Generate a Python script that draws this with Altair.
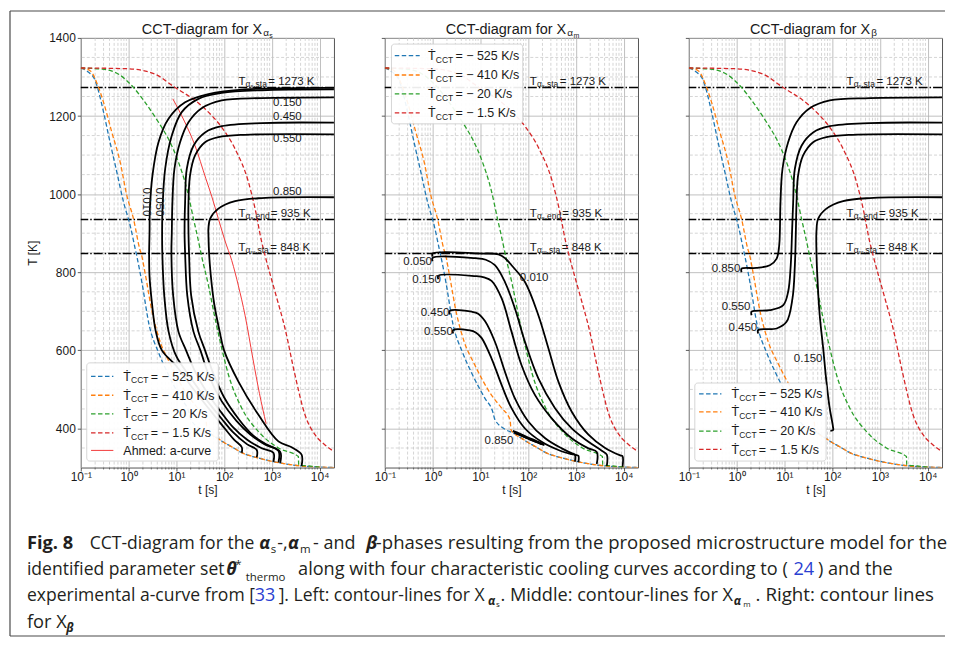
import altair as alt
import pandas as pd

FONT = "Liberation Sans"
CAPFONT = "Open Sans"
INK = "#1a1a1a"
W, H = 254, 431
XDOM = [0.1, 20000]
YDOM = [300, 1400]
PX0, PY0 = 79, 35.5   # page position of the left plot's origin

# ---------------- axis ticks ----------------
x_major = [0.1, 1, 10, 100, 1000, 10000]
x_minor = [0.2, 0.3, 0.4, 0.5, 0.6, 0.7, 0.8, 0.9, 2, 3, 4, 5, 6, 7, 8, 9,
           20, 30, 40, 50, 60, 70, 80, 90, 200, 300, 400, 500, 600, 700, 800, 900,
           2000, 3000, 4000, 5000, 6000, 7000, 8000, 9000]
y_major = [400, 600, 800, 1000, 1200, 1400]
y_minor = [350, 450, 500, 550, 650, 700, 750, 850, 900, 950, 1050, 1100, 1150, 1250, 1300, 1350]

# ---------------- cooling curves ----------------
rate_labels = ["= \u2212 525 K/s", "= \u2212 410 K/s", "= \u2212 20 K/s", "= \u2212 1.5 K/s"]
rate_colors = ["#1f77b4", "#ff7f0e", "#2ca02c", "#d62728"]

blue_t = [0.1, 0.146, 0.2, 0.224, 0.30, 0.41, 0.57, 0.785, 1.08, 1.38, 1.45, 1.9, 2.7, 4.2, 6.4,
          12.5, 18.5, 20, 33, 50, 75, 100, 160, 235, 500, 1080, 2000, 4200, 10000, 20000]
blue_T = [1323, 1312, 1291, 1273, 1210, 1133, 1056, 980, 920, 860, 848, 775, 665, 596, 545,
          477, 440, 424, 398, 388, 374, 364, 350, 338, 325, 315, 309, 304, 301, 300]

orange_t = [0.1, 0.157, 0.236, 0.30, 0.448, 0.668, 0.92, 1.27, 1.75, 1.84, 2.22, 3.1, 4.6, 7.5,
            17, 28, 42, 44, 50, 75, 100, 160, 235, 500, 1080, 2000, 4200, 10000, 20000]
orange_T = [1323, 1316, 1273, 1235, 1158, 1082, 997, 937, 856, 848, 798, 700, 622, 565,
            486, 452, 422, 396, 388, 374, 364, 350, 338, 325, 315, 309, 304, 301, 300]

green_t = [0.1, 0.28, 0.62, 1.27, 2.22, 4.24, 6.87, 11.1, 16.6, 22.9, 31.5, 33, 47, 65, 89.5,
           124, 235, 525, 1375, 3600, 3650, 6000, 10000]
green_T = [1323, 1320, 1307, 1273, 1235, 1184, 1141, 1082, 1014, 937, 860, 848, 767, 681, 605,
           537, 452, 392, 350, 328, 307, 304, 301]

red_t = [0.1, 1, 3.6, 9.4, 24.7, 47, 89.5, 170, 324, 446, 615, 721, 1167, 1890, 3055, 4950,
         8020, 13000, 20000]
red_T = [1323, 1321, 1307, 1273, 1240, 1210, 1171, 1116, 1031, 963, 877, 843, 750, 656, 537, 435,
         384, 358, 341]

# experimental a-curve (Ahmed)
acurve_t = [8.45, 15, 24.7, 41.5, 55, 76, 105, 145, 200, 275, 400, 550, 760]
acurve_T = [1244, 1185, 1124, 1040, 995, 937, 880, 830, 765, 690, 580, 490, 412]

# characteristic temperatures
h_T = [1273, 935, 848]

# ---------------- contour lines ----------------
as_010 = [(235, 338), (235, 352), (160, 372), (89, 410), (45, 455), (20, 510), (10, 560), (5, 600),
          (3.7, 650), (3.1, 720), (2.75, 790), (2.7, 848), (2.75, 900), (2.8, 963), (3.17, 1048),
          (4.24, 1133), (6.87, 1193), (15.3, 1235), (47, 1256), (275, 1268), (20000, 1272)]
as_050 = [(484, 326), (484, 345), (300, 360), (150, 392), (89, 425), (45, 470), (20, 530), (10, 585),
          (6.9, 648), (5.6, 740), (5.1, 848), (5.05, 900), (5.15, 963), (5.85, 1065), (8.05, 1150),
          (13, 1210), (29, 1244), (89.5, 1259), (614, 1266), (20000, 1268)]
as_150 = [(1080, 315), (1080, 338), (600, 350), (300, 372), (150, 405), (89, 440), (45, 490),
          (25, 545), (16, 600), (11.1, 648), (8.6, 740), (7.9, 848), (8.05, 900), (8.3, 980),
          (9.15, 1065), (12, 1133), (18, 1184), (34, 1220), (89.5, 1240), (614, 1246), (20000, 1248)]
as_450 = [(1375, 313), (1375, 343), (700, 360), (350, 385), (180, 420), (89, 470), (50, 530),
          (32, 600), (22.9, 648), (17, 740), (15.3, 848), (14.9, 900), (15.3, 980), (16.6, 1065),
          (22.9, 1124), (40, 1158), (89.5, 1174), (614, 1182), (20000, 1183)]
as_550 = [(1500, 312), (1500, 340), (800, 358), (400, 383), (200, 425), (100, 480), (60, 540),
          (40, 600), (29, 648), (20.5, 740), (18.5, 848), (18, 900), (18, 980), (19.4, 1048),
          (24.7, 1099), (40, 1133), (76, 1146), (275, 1152), (20000, 1153)]
as_850 = [(4200, 304), (4200, 333), (2600, 352), (1375, 367), (525, 435), (200, 520), (100, 600),
          (81, 648), (62, 720), (52, 800), (48.6, 848), (47, 900), (47, 911), (51, 937), (76, 963),
          (170, 982), (614, 990), (20000, 992)]

am_010 = [(1.0, 840), (1.0, 848), (10, 848), (24, 846), (33, 836), (45, 818), (86, 775), (164, 690),
          (267, 605), (431, 520), (820, 443), (1836, 384), (4100, 350), (8500, 331), (9500, 329),
          (9500, 302)]
am_050 = [(1.0, 828), (1.0, 837), (8, 836), (13, 832), (20.2, 818), (32.8, 775), (53, 707), (86, 622),
          (164, 528), (366, 452), (820, 400), (1836, 366), (3490, 343), (4450, 333), (4450, 304)]
am_150 = [(1.32, 782), (1.32, 791), (8, 790), (12, 787), (17.2, 778), (28, 733), (45, 648), (73, 562),
          (139, 486), (312, 426), (820, 375), (1836, 349), (2740, 340), (2740, 309)]
am_450 = [(2.3, 692), (2.3, 701), (6.6, 699), (9, 694), (12.5, 675), (20.2, 622), (32.8, 545),
          (53, 477), (101, 418), (228, 375), (507, 349), (960, 333), (1130, 330), (1130, 314)]
am_550 = [(2.7, 643), (2.7, 652), (6, 651), (8, 646), (10.6, 632), (17.2, 579), (28, 511), (45, 452),
          (86, 400), (192, 366), (431, 345), (820, 334), (955, 332), (955, 315)]
am_850a = [(48, 394), (70, 386), (100, 377), (150, 368), (210, 360)]
am_850b = [(50, 390), (75, 381), (110, 372), (160, 364), (220, 357)]
am_850c = [(55, 388), (85, 378), (130, 368), (190, 360)]

b_850 = [(1.27, 800), (1.27, 809), (2.6, 811), (4.97, 818), (6.9, 835), (7.8, 869), (8.05, 903),
         (8.3, 980), (9.15, 1065), (12, 1133), (18, 1184), (34, 1220), (89.5, 1240), (614, 1246),
         (20000, 1248)]
b_550 = [(2.06, 690), (2.06, 699), (4.97, 703), (9.5, 716), (12, 750), (13.6, 818), (14.5, 903),
         (15.3, 980), (16.6, 1065), (22.9, 1124), (40, 1158), (89.5, 1174), (614, 1182), (20000, 1183)]
b_450 = [(2.83, 643), (2.83, 652), (6.9, 656), (11.1, 673), (14.8, 733), (16.6, 818), (17.4, 903),
         (18, 980), (19.4, 1048), (24.7, 1099), (40, 1133), (76, 1146), (275, 1152), (20000, 1153)]
b_150 = [(20000, 992), (614, 990), (170, 982), (76, 963), (51, 937), (47, 905), (47, 852),
         (48.5, 801), (55, 690), (65, 605), (76, 520), (89, 452), (104, 405), (105, 396), (92, 394)]

contours = [
    {"010": as_010, "050": as_050, "150": as_150, "450": as_450, "550": as_550, "850": as_850},
    {"010": am_010, "050": am_050, "150": am_150, "450": am_450, "550": am_550,
     "850a": am_850a, "850b": am_850b, "850c": am_850c},
    {"850": b_850, "550": b_550, "450": b_450, "150": b_150},
]

clab_rot = [("0.010", 2.3, 980), ("0.050", 4.24, 980)]
clab_center = [
    [("0.150", 2120, 1233), ("0.450", 2120, 1197), ("0.550", 2120, 1140), ("0.850", 2120, 1005)],
    [("0.010", 134, 784)],
    [("0.150", 31.5, 577)],
]
clab_right = [
    [],
    [("0.050", 0.97, 825), ("0.150", 1.5, 781), ("0.450", 2.25, 696), ("0.550", 2.65, 648),
     ("0.850", 49, 368)],
    [("0.850", 1.2, 809), ("0.550", 1.95, 711), ("0.450", 2.7, 658)],
]

titles_sub = [("\u03b1", "s"), ("\u03b1", "m"), ("\u03b2", "")]
hlabel_t0 = [200, 109, 200]
hlabel_parts = [("s", ",sta", "= 1273 K", 30.0), ("s", ",end", "= 935 K", 32.5), ("m", ",sta", "= 848 K", 32.0)]

x_label_expr = ("datum.value < 0.5 ? '10\u207b\u00b9' : datum.value < 5 ? '10\u2070' : "
                "datum.value < 50 ? '10\u00b9' : datum.value < 500 ? '10\u00b2' : "
                "datum.value < 5000 ? '10\u00b3' : '10\u2074'")

# ---------------- caption (page positions) ----------------
DARK = "#231f20"
BLUE = "#2b3fd1"
cap_segments = [
    ("Fig. 8", 25, 548, 18.3, "b", DARK),
    ("CCT-diagram for the", 88, 548, 17.6, "n", DARK),
    ("\u03b1", 258, 548, 18, "bi", DARK),
    ("s", 269.5, 552, 11.5, "n", DARK),
    ("-,", 276, 548, 18, "n", DARK),
    ("\u03b1", 287, 548, 18, "bi", DARK),
    ("m", 299, 552, 11.5, "n", DARK),
    ("- and", 312, 548, 18, "n", DARK),
    ("\u03b2", 365.5, 548, 18, "bi", DARK),
    ("-phases resulting from the proposed microstructure model for the", 375, 548, 18.6, "n", DARK),
    ("identified parameter set", 25, 574, 17.6, "n", DARK),
    ("\u03b8", 225, 574, 18, "bi", DARK),
    ("*", 234, 567, 11.5, "n", DARK),
    ("thermo", 244.5, 580, 11.5, "n", DARK),
    ("along with four characteristic cooling curves according to (", 297, 574, 18.2, "n", DARK),
    ("24", 794, 574, 18.2, "n", BLUE),
    (") and the", 818.5, 574, 18.2, "n", DARK),
    ("experimental a-curve from [", 25, 600, 17.6, "n", DARK),
    ("33", 253.5, 600, 18, "n", BLUE),
    ("]. Left: contour-lines for X", 277.5, 600, 17.6, "n", DARK),
    ("\u03b1", 487.5, 604, 12, "bi", DARK),
    ("s", 495.5, 606, 8, "n", DARK),
    (". Middle: contour-lines for X", 500, 600, 18.2, "n", DARK),
    ("\u03b1", 734, 604, 12, "bi", DARK),
    ("m", 743.5, 606, 8, "n", DARK),
    (". Right: contour lines", 756, 600, 18.8, "n", DARK),
    ("for X", 25, 627, 18.3, "n", DARK),
    ("\u03b2", 64.5, 631, 12, "bi", DARK),
]
frame_lines = [(8, 8.5, 8, 635.5), (8, 8.5, 946, 8.5), (8, 635.5, 946, 635.5)]


def line_frame(curves):
    rows = []
    for name, pts in curves.items():
        for i, (t, T) in enumerate(pts):
            rows.append({"c": name, "i": i, "t": t, "T": T})
    return pd.DataFrame(rows)


ONE = pd.DataFrame({"a": [0]})


def vtext(x, y, text, size, align="left", baseline="alphabetic", weight="normal", style="normal",
          font=FONT, color=INK):
    return alt.Chart(ONE).mark_text(align=align, baseline=baseline, font=font, fontSize=size,
                                    fontWeight=weight, fontStyle=style, color=color).encode(
        x=alt.value(x), y=alt.value(y), text=alt.value(text))


def make_panel(k):
    x_axis = alt.Axis(values=x_major, labelExpr=x_label_expr, grid=True, gridColor="#b0b0b0",
                      gridWidth=0.8, domain=False, tickSize=3.5, tickColor="#333333", tickWidth=0.8,
                      labelFont=FONT, labelFontSize=12, labelColor=INK, labelPadding=1,
                      labelFlush=False, labelOverlap=False, title="t [s]", titleFont=FONT,
                      titleFontSize=12, titleFontWeight="normal", titleColor=INK, titlePadding=2)
    y_axis = alt.Axis(values=y_major, format="d", grid=True, gridColor="#b0b0b0", gridWidth=0.8,
                      domain=False, tickSize=3.5, tickColor="#333333", tickWidth=0.8,
                      labels=(k == 0), labelFont=FONT, labelFontSize=12, labelColor=INK,
                      labelPadding=2, title=("T [K]" if k == 0 else ""), titleFont=FONT,
                      titleFontSize=12, titleFontWeight="normal", titleColor=INK, titlePadding=9)
    X = alt.X("t:Q", scale=alt.Scale(type="log", domain=XDOM, nice=False), axis=x_axis)
    Y = alt.Y("T:Q", scale=alt.Scale(domain=YDOM, nice=False, zero=False), axis=y_axis)

    L = []
    L.append(alt.Chart(pd.DataFrame({"t": x_minor})).mark_rule(
        color="#c2c2c2", strokeWidth=0.7, strokeDash=[3, 2]).encode(x=X))
    L.append(alt.Chart(pd.DataFrame({"T": y_minor})).mark_rule(
        color="#c2c2c2", strokeWidth=0.7, strokeDash=[3, 2]).encode(y=Y))
    L.append(alt.Chart(pd.DataFrame({"t": x_minor})).mark_rule(
        color="#333333", strokeWidth=0.6).encode(x=X, y=alt.value(H), y2=alt.value(H + 2)))

    L.append(alt.Chart(pd.DataFrame({"T": h_T})).mark_rule(
        color="black", strokeWidth=1.4, strokeDash=[9, 2, 1.5, 2]).encode(y=Y))

    for tt, TT, col in zip([blue_t, orange_t, green_t, red_t], [blue_T, orange_T, green_T, red_T],
                           rate_colors):
        df = pd.DataFrame({"t": tt, "T": TT, "i": range(len(tt))})
        L.append(alt.Chart(df).mark_line(color=col, strokeWidth=1.3, strokeDash=[4.5, 2.5],
                                         interpolate="monotone", clip=True).encode(
            x=X, y=Y, order="i:Q"))

    if k == 0:
        df = pd.DataFrame({"t": acurve_t, "T": acurve_T, "i": range(len(acurve_t))})
        L.append(alt.Chart(df).mark_line(color="#f23a3a", strokeWidth=1.0,
                                         interpolate="monotone", clip=True).encode(
            x=X, y=Y, order="i:Q"))

    L.append(alt.Chart(line_frame(contours[k])).mark_line(
        color="black", strokeWidth=1.8, interpolate="catmull-rom", clip=True).encode(
        x=X, y=Y, detail="c:N", order="i:Q"))

    if k == 0:
        df = pd.DataFrame(clab_rot, columns=["lab", "t", "T"])
        L.append(alt.Chart(df).mark_text(angle=90, align="center", baseline="middle", font=FONT,
                                         fontSize=11.5, color=INK).encode(x=X, y=Y, text="lab:N"))
    if clab_center[k]:
        df = pd.DataFrame(clab_center[k], columns=["lab", "t", "T"])
        L.append(alt.Chart(df).mark_text(align="center", baseline="middle", font=FONT,
                                         fontSize=11.5, color=INK).encode(x=X, y=Y, text="lab:N"))
    if clab_right[k]:
        df = pd.DataFrame(clab_right[k], columns=["lab", "t", "T"])
        L.append(alt.Chart(df).mark_text(align="right", baseline="middle", font=FONT,
                                         fontSize=11.5, color=INK).encode(x=X, y=Y, text="lab:N"))

    for T, (s1, s2, val, vdx) in zip(h_T, hlabel_parts):
        df = pd.DataFrame({"t": [hlabel_t0[k]], "T": [T]})
        tail_dx = 14.8 if s1 == "s" else 16.8
        for txt, dx, dy, sz in [("T", 0, -2.5, 11.5), ("\u03b1", 7.2, -0.5, 8.5), (s1, 12.0, 0.8, 6),
                                (s2, tail_dx, -0.5, 8.5), (val, vdx, -2.5, 11.5)]:
            L.append(alt.Chart(df).mark_text(align="left", baseline="alphabetic", dx=dx, dy=dy,
                                             font=FONT, fontSize=sz, color=INK).encode(
                x=X, y=Y, text=alt.value(txt)))

    if k == 0:
        box, rows, lx, tx = (6, 326, 138, 424.5), [339.5, 358.5, 377.2, 396.2, 413.8], (10.3, 32.7), 42.7
    elif k == 1:
        box, rows, lx, tx = (6.7, 6.2, 138.4, 86.2), [17.8, 37.2, 56.2, 75.2], (10, 35), 43.4
    else:
        box, rows, lx, tx = (6, 346.2, 137.7, 424.5), [357.2, 375.2, 394.5, 412.8], (10.3, 32.7), 42.7
    L.append(alt.Chart(ONE).mark_rect(fill="white", fillOpacity=0.92, stroke="#cccccc",
                                      strokeWidth=0.8, cornerRadius=3).encode(
        x=alt.value(box[0]), x2=alt.value(box[2]), y=alt.value(box[1]), y2=alt.value(box[3])))
    for i in range(4):
        y = rows[i]
        L.append(alt.Chart(ONE).mark_rule(color=rate_colors[i], strokeWidth=1.3,
                                          strokeDash=[4.5, 2.5]).encode(
            x=alt.value(lx[0]), x2=alt.value(lx[1]), y=alt.value(y)))
        L.append(vtext(tx, y + 4.3, "\u1e6a", 12.5))
        L.append(vtext(tx + 7.8, y + 7, "CCT", 8.5))
        L.append(vtext(tx + 27.5, y + 4.3, rate_labels[i], 12.5))
    if k == 0:
        y = rows[4]
        L.append(alt.Chart(ONE).mark_rule(color="#f23a3a", strokeWidth=1.0).encode(
            x=alt.value(lx[0]), x2=alt.value(lx[1]), y=alt.value(y)))
        L.append(vtext(tx, y + 4.3, "Ahmed: a-curve", 12.5))

    sub1, sub2 = titles_sub[k]
    L.append(vtext(182, -3.8, "CCT-diagram for X", 14.5, align="right"))
    L.append(vtext(183, -1.8, sub1, 10))
    if sub2:
        L.append(vtext(189.2, -0.3, sub2, 7))

    if k == 0:
        for txt, px, py, sz, sty, col in cap_segments:
            L.append(vtext(px - PX0, py - PY0, txt, sz, weight=("bold" if sty != "n" else "normal"),
                           style=("italic" if sty == "bi" else "normal"), font=CAPFONT, color=col))
        for x1, y1, x2, y2 in frame_lines:
            L.append(alt.Chart(ONE).mark_rule(color="#4a4a4a", strokeWidth=1.2).encode(
                x=alt.value(x1 - PX0), x2=alt.value(x2 - PX0),
                y=alt.value(y1 - PY0), y2=alt.value(y2 - PY0)))

    return alt.layer(*L).properties(width=W, height=H)


panels = [make_panel(k) for k in range(3)]
chart = alt.hconcat(*panels, spacing=51, bounds="flush").properties(padding=0).configure_view(
    stroke="#555555", strokeWidth=1)

chart.save("out.html", embed_options={"renderer": "svg", "actions": False})
